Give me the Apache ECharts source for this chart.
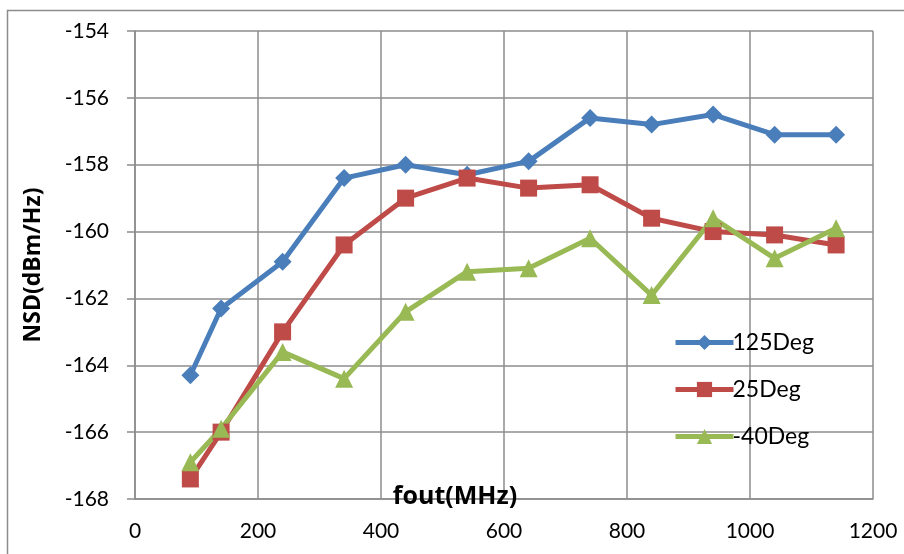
<!DOCTYPE html>
<html>
<head>
<meta charset="utf-8">
<script src="https://cdn.jsdelivr.net/npm/echarts@6/dist/echarts.min.js"></script>
<style>html,body{margin:0;padding:0;background:#fff;}#c{width:904px;height:554px;}</style>
</head>
<body>
<div id="c"></div>
<script>
const fout = [90, 140, 240, 340, 440, 540, 640, 740, 840, 940, 1040, 1140];
const deg125 = [-164.3, -162.3, -160.9, -158.4, -158.0, -158.3, -157.9, -156.6, -156.8, -156.5, -157.1, -157.1];
const deg25 = [-167.4, -166.0, -163.0, -160.4, -159.0, -158.4, -158.7, -158.6, -159.6, -160.0, -160.1, -160.4];
const degm40 = [-166.9, -165.9, -163.6, -164.4, -162.4, -161.2, -161.1, -160.2, -161.9, -159.6, -160.8, -159.9];
const seriesNames = ['125Deg', '25Deg', '-40Deg'];
const xTitle = 'fout(MHz)';
const yTitle = 'NSD(dBm/Hz)';

const FONT = 'Lato, "Open Sans", sans-serif';
const BFONT = '"Open Sans", "DejaVu Sans", sans-serif';
const chart = echarts.init(document.getElementById('c'), null, {renderer: 'canvas'});
const pair = (xs, ys) => xs.map((x, i) => [x, ys[i]]);
const mk = (name, data, color, symbol, size) => ({
  name, type: 'line', data, symbol, symbolSize: size,
  lineStyle: {color, width: 5},
  itemStyle: {color, borderWidth: 0},
  emphasis: {disabled: true}, animation: false
});
chart.setOption({
  animation: false,
  graphic: [
    {type: 'rect', shape: {x: 7.5, y: 10.5, width: 1000, height: 1000}, style: {fill: 'none', stroke: '#8c8c8c', lineWidth: 1.5}, z: -1},
    {type: 'text', x: 455, y: 497, style: {text: xTitle, fontFamily: BFONT, fontSize: 25, fontWeight: 'bold', fill: '#000', align: 'center', verticalAlign: 'middle'}, z: 10},
    {type: 'text', x: 33, y: 265, rotation: Math.PI / 2, style: {text: yTitle, fontFamily: BFONT, fontSize: 23, fontWeight: 'bold', fill: '#000', align: 'center', verticalAlign: 'middle'}, z: 10}
  ],
  grid: {left: 135, right: 31, top: 31, bottom: 55, containLabel: false},
  legend: {
    orient: 'vertical', left: 668, top: 326, itemGap: 24, itemWidth: 58, itemHeight: 19,
    lineStyle: {width: 5},
    textStyle: {fontFamily: FONT, fontSize: 23, color: '#000', padding: [0, 0, 0, -6]},
    data: seriesNames
  },
  xAxis: {
    type: 'value', min: 0, max: 1200, interval: 200,
    axisLine: {show: true, lineStyle: {color: '#8c8c8c', width: 1.5}},
    axisTick: {show: false},
    splitLine: {show: true, lineStyle: {color: '#8c8c8c', width: 1.5}},
    axisLabel: {fontFamily: FONT, fontSize: 21, color: '#000', margin: 22, formatter: v => String(v)}
  },
  yAxis: {
    type: 'value', min: -168, max: -154, interval: 2,
    axisLine: {show: true, lineStyle: {color: '#8c8c8c', width: 1.5}},
    axisTick: {show: true, inside: false, length: 8, lineStyle: {color: '#8c8c8c', width: 1.5}},
    splitLine: {show: true, lineStyle: {color: '#8c8c8c', width: 1.5}},
    axisLabel: {fontFamily: FONT, fontSize: 21, color: '#000', margin: 26, formatter: v => String(v)}
  },
  series: [
    mk(seriesNames[0], pair(fout, deg125), '#4a7ebb', 'diamond', 18),
    mk(seriesNames[1], pair(fout, deg25), '#be4b48', 'rect', 17),
    mk(seriesNames[2], pair(fout, degm40), '#98b954', 'triangle', 18)
  ]
});
</script>
</body>
</html>
